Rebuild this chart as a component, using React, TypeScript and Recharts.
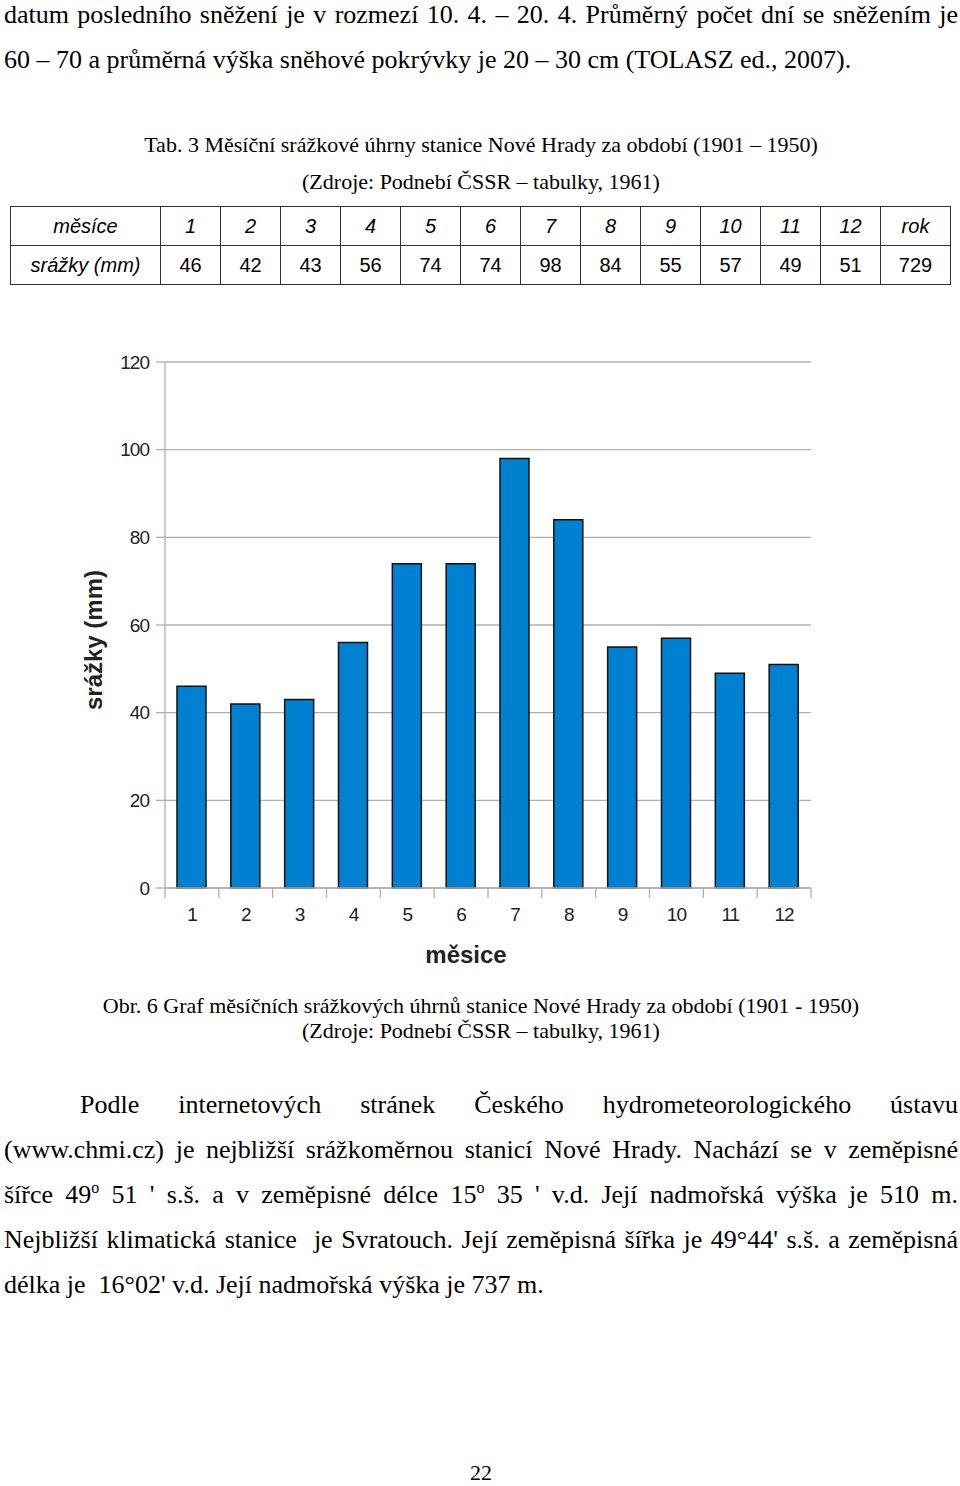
import { BarChart, Bar, CartesianGrid, XAxis, YAxis, Label } from "recharts";

const months = ["1", "2", "3", "4", "5", "6", "7", "8", "9", "10", "11", "12"];
const precip = [46, 42, 43, 56, 74, 74, 98, 84, 55, 57, 49, 51];
const yearTotal = 729;
const yTicks = [0, 20, 40, 60, 80, 100, 120];

const chartData = months.map((m, i) => ({ month: m, value: precip[i] }));

const gray = "#b0b0b0";
const serif = "'Liberation Serif', 'Times New Roman', serif";
const sans = "'Liberation Sans', Arial, sans-serif";

// one justified line of body text, centred on y
function Line({ y, children, indent = 0, last = false, size = 26 }: any) {
    return (
        <div
            style={{
                position: "absolute",
                left: 4 + indent,
                width: 954 - indent,
                top: y - 22,
                height: 45,
                lineHeight: "45px",
                fontSize: size,
                fontFamily: serif,
                whiteSpace: "nowrap",
                textAlign: "justify",
                textAlignLast: last ? "left" : "justify",
                color: "#000",
            }}
        >
            {children}
        </div>
    );
}

function Centered({ y, children, size = 22 }: any) {
    return (
        <div
            style={{
                position: "absolute",
                left: 0,
                width: 962,
                top: y - 15,
                height: 30,
                lineHeight: "30px",
                fontSize: size,
                fontFamily: serif,
                textAlign: "center",
                whiteSpace: "nowrap",
                color: "#000",
            }}
        >
            {children}
        </div>
    );
}

const Deg = () => (
    <span style={{ fontSize: 16, position: "relative", top: -10, lineHeight: 0 }}>o</span>
);

const MonthTick = (props: any) => {
    const { x, y, payload, index, visibleTicksCount } = props;
    const half = payload?.offset || 646 / 24;
    return (
        <g>
            <line x1={x - half} x2={x - half} y1={y} y2={y + 10} stroke={gray} strokeWidth={1.3} />
            {index === visibleTicksCount - 1 && (
                <line x1={x + half} x2={x + half} y1={y} y2={y + 10} stroke={gray} strokeWidth={1.3} />
            )}
            <text x={x} y={y + 33} textAnchor="middle" fontSize={19} fontFamily={sans} letterSpacing={-1} fill="#222">
                {payload.value}
            </text>
        </g>
    );
};

const cellStyle = {
    border: "1.5px solid #333",
    padding: 0,
    textAlign: "center" as const,
    fontFamily: sans,
    fontSize: 20,
    height: 38,
};

export default function App() {
    const colWidths = [150, ...months.map(() => 60), 70];
    return (
        <div style={{ position: "absolute", left: 0, top: 0, width: 960, height: 1486, background: "#fff" }}>
            <Line y={14}>
                datum posledního sněžení je v rozmezí 10. 4. – 20. 4. Průměrný počet dní se sněžením je
            </Line>
            <Line y={59} last>
                60 – 70 a průměrná výška sněhové pokrývky je 20 – 30 cm (TOLASZ ed., 2007).
            </Line>

            <Centered y={145}>Tab. 3 Měsíční srážkové úhrny stanice Nové Hrady za období (1901 – 1950)</Centered>
            <Centered y={182}>(Zdroje: Podnebí ČSSR – tabulky, 1961)</Centered>

            <table
                style={{
                    position: "absolute",
                    left: 10,
                    top: 206,
                    borderCollapse: "collapse",
                    tableLayout: "fixed",
                    width: 941,
                }}
            >
                <colgroup>
                    {colWidths.map((w, i) => (
                        <col key={i} style={{ width: w }} />
                    ))}
                </colgroup>
                <tbody>
                    <tr>
                        <td style={{ ...cellStyle, fontStyle: "italic" }}>měsíce</td>
                        {months.map((m) => (
                            <td key={m} style={{ ...cellStyle, fontStyle: "italic" }}>
                                {m}
                            </td>
                        ))}
                        <td style={{ ...cellStyle, fontStyle: "italic" }}>rok</td>
                    </tr>
                    <tr>
                        <td style={{ ...cellStyle, fontStyle: "italic" }}>srážky (mm)</td>
                        {precip.map((v, i) => (
                            <td key={i} style={cellStyle}>
                                {v}
                            </td>
                        ))}
                        <td style={cellStyle}>{yearTotal}</td>
                    </tr>
                </tbody>
            </table>

            <div style={{ position: "absolute", left: 0, top: 330 }}>
                <BarChart
                    width={960}
                    height={680}
                    data={chartData}
                    margin={{ top: 32, right: 149, left: 78, bottom: 42 }}
                    barSize={29}
                >
                    <CartesianGrid vertical={false} stroke={gray} strokeWidth={1.3} />
                    <XAxis
                        dataKey="month"
                        height={80}
                        axisLine={{ stroke: gray, strokeWidth: 1.3 }}
                        tickLine={false}
                        tickSize={0}
                        tickMargin={0}
                        interval={0}
                        tick={<MonthTick />}
                    >
                        <Label
                            content={({ viewBox }: any) => (
                                <text
                                    x={viewBox.x + 301}
                                    y={viewBox.y + 75}
                                    textAnchor="middle"
                                    fontSize={24}
                                    fontWeight="bold"
                                    fontFamily={sans}
                                    fill="#222"
                                >
                                    měsice
                                </text>
                            )}
                        />
                    </XAxis>
                    <YAxis
                        width={87}
                        domain={[0, 120]}
                        ticks={yTicks}
                        interval={0}
                        axisLine={{ stroke: gray, strokeWidth: 1.3 }}
                        tickLine={{ stroke: gray, strokeWidth: 1.3 }}
                        tickSize={9}
                        tickMargin={7}
                        tick={{ fontSize: 19, fontFamily: sans, fill: "#222", letterSpacing: -1 }}
                    >
                        <Label
                            content={({ viewBox }: any) => {
                                const cx = viewBox.x + 15;
                                const cy = viewBox.y + viewBox.height / 2 + 15;
                                return (
                                    <text
                                        x={cx}
                                        y={cy}
                                        transform={`rotate(-90 ${cx} ${cy})`}
                                        textAnchor="middle"
                                        dominantBaseline="central"
                                        fontSize={24}
                                        fontWeight="bold"
                                        fontFamily={sans}
                                        fill="#222"
                                    >
                                        srážky (mm)
                                    </text>
                                );
                            }}
                        />
                    </YAxis>
                    <YAxis
                        yAxisId="frame"
                        orientation="right"
                        width={0}
                        tick={false}
                        tickLine={false}
                        axisLine={{ stroke: gray, strokeWidth: 1.3 }}
                    />
                    <Bar dataKey="value" fill="#0080d0" stroke="#111" strokeWidth={1.5} isAnimationActive={false} />
                </BarChart>
            </div>

            <Centered y={1006}>Obr. 6 Graf měsíčních srážkových úhrnů stanice Nové Hrady za období (1901 - 1950)</Centered>
            <Centered y={1031}>(Zdroje: Podnebí ČSSR – tabulky, 1961)</Centered>

            <Line y={1104} indent={76}>
                Podle internetových stránek Českého hydrometeorologického ústavu
            </Line>
            <Line y={1149}>
                (www.chmi.cz) je nejbližší srážkoměrnou stanicí Nové Hrady. Nachází se v zeměpisné
            </Line>
            <Line y={1194}>
                šířce 49<Deg /> 51 ' s.š. a v zeměpisné délce 15<Deg /> 35 ' v.d. Její nadmořská výška je 510 m.
            </Line>
            <Line y={1239}>
                Nejbližší klimatická stanice&nbsp; je Svratouch. Její zeměpisná šířka je 49°44' s.š. a zeměpisná
            </Line>
            <Line y={1284} last>
                délka je&nbsp; 16°02' v.d. Její nadmořská výška je 737 m.
            </Line>

            <Centered y={1473} size={22}>22</Centered>
        </div>
    );
}
